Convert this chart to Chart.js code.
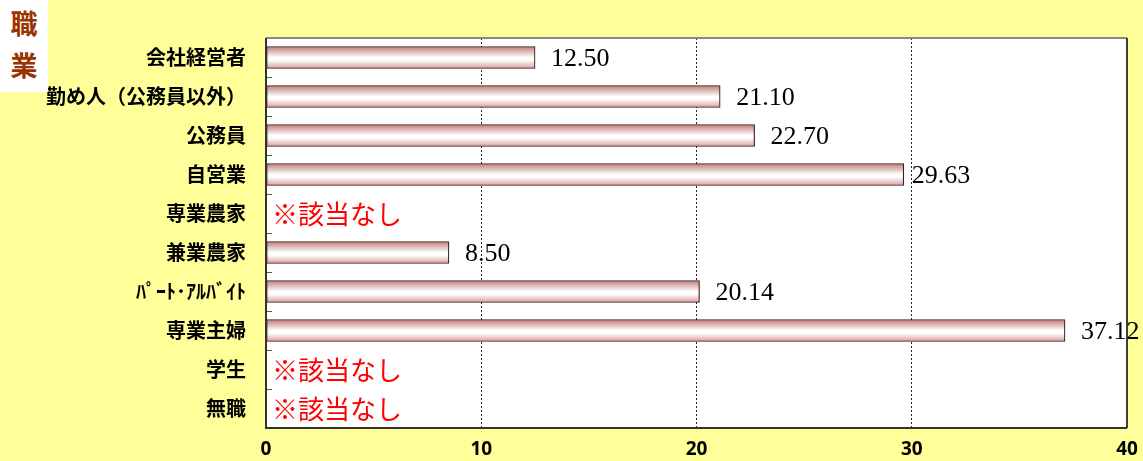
<!DOCTYPE html>
<html>
<head>
<meta charset="utf-8">
<script src="https://cdn.jsdelivr.net/npm/chart.js@4.4.1/dist/chart.umd.min.js"></script>
<style>
    html, body { margin: 0; padding: 0; background: #ffff99; }
    #wrap { position: relative; width: 1143px; height: 461px; }
    #title {
        position: absolute; left: 0; top: 0; width: 48px; height: 92px;
        background: #fff; color: #993300;
        font: bold 27px "Noto Sans CJK JP", sans-serif;
        line-height: 42px; text-align: center; padding-top: 2px; box-sizing: border-box;
    }
</style>
</head>
<body>
<div id="wrap">
    <canvas id="grafik" width="1143" height="461"></canvas>
    <div id="title">職<br>業</div>
</div>
<script>
const categories = ['会社経営者', '勤め人（公務員以外）', '公務員', '自営業', '専業農家', '兼業農家', 'ﾊﾟｰﾄ･ｱﾙﾊﾞｲﾄ', '専業主婦', '学生', '無職']
const values = [12.50, 21.10, 22.70, 29.63, null, 8.50, 20.14, 37.12, null, null]
const emptyNote = '※該当なし'
const xTicks = [0, 10, 20, 30, 40]

const BAR_H = 22

// vertical pink-white-pink gradient for each bar
function barFill(c) {
    const chart = c.chart
    if (!chart.chartArea || !chart.scales.y) return '#e8b8b8'
    const mid = chart.scales.y.getPixelForValue(c.dataIndex)
    const top = mid - BAR_H / 2
    const g = chart.ctx.createLinearGradient(0, top, 0, top + BAR_H)
    g.addColorStop(0, '#c27a7a')
    g.addColorStop(0.5, '#ffffff')
    g.addColorStop(0.62, '#ffffff')
    g.addColorStop(1, '#d99c9c')
    return g
}

const plotDeco = {
    id: 'plotDeco',
    beforeDraw(chart) {
        const { ctx, chartArea: a } = chart
        ctx.save()
        ctx.fillStyle = '#ffff99'
        ctx.fillRect(0, 0, chart.width, chart.height)
        ctx.fillStyle = '#ffffff'
        ctx.fillRect(a.left, a.top, a.right - a.left, a.bottom - a.top)
        ctx.restore()
    },
    afterDatasetsDraw(chart) {
        const { ctx, chartArea: a, scales } = chart
        const y = scales.y
        ctx.save()
        // tick marks inside plot between categories
        ctx.strokeStyle = '#555'
        ctx.lineWidth = 1
        for (let i = 1; i < categories.length; i++) {
            const yy = Math.round((y.getPixelForValue(i - 1) + y.getPixelForValue(i)) / 2) + 0.5
            ctx.beginPath()
            ctx.moveTo(a.left, yy)
            ctx.lineTo(a.left + 6, yy)
            ctx.stroke()
        }
        // borders
        ctx.strokeStyle = '#888'
        ctx.lineWidth = 2
        ctx.beginPath(); ctx.moveTo(a.left, a.top); ctx.lineTo(a.right, a.top); ctx.stroke()
        ctx.strokeStyle = '#000'
        ctx.lineWidth = 1.5
        ctx.beginPath(); ctx.moveTo(a.right, a.top); ctx.lineTo(a.right, a.bottom); ctx.stroke()
        ctx.strokeStyle = '#333'
        ctx.lineWidth = 2
        ctx.beginPath(); ctx.moveTo(a.left, a.top); ctx.lineTo(a.left, a.bottom); ctx.lineTo(a.right, a.bottom); ctx.stroke()

        // labels
        ctx.textBaseline = 'middle'
        ctx.textAlign = 'left'
        values.forEach((v, i) => {
            const yy = y.getPixelForValue(i)
            if (v === null) {
                ctx.fillStyle = '#ff0000'
                ctx.font = '26px "Noto Sans CJK JP", sans-serif'
                ctx.fillText(emptyNote, a.left + 6, yy + 1)
            } else {
                const el = chart.getDatasetMeta(0).data[i]
                ctx.fillStyle = '#000'
                ctx.font = '26px "Liberation Serif", serif'
                ctx.fillText(v.toFixed(2), el.x + (i === 3 ? 8 : 16), yy + 2)
            }
        })
        ctx.restore()
    }
}

new Chart(document.getElementById('grafik'), {
    type: 'bar',
    data: {
        labels: categories,
        datasets: [{
            data: values,
            backgroundColor: barFill,
            borderColor: '#3a2020',
            borderWidth: 1.2,
            borderSkipped: false,
            barThickness: BAR_H
        }]
    },
    plugins: [plotDeco],
    options: {
        indexAxis: 'y',
        responsive: false,
        animation: false,
        layout: { padding: { top: 38, right: 16, left: 0, bottom: 0 } },
        plugins: { legend: { display: false }, tooltip: { enabled: false } },
        scales: {
            x: {
                min: 0,
                max: 40,
                afterBuildTicks: s => { s.ticks = xTicks.map(v => ({ value: v })) },
                afterFit: s => { s.height = 33; s.paddingLeft = 0; s.paddingRight = 0 },
                border: { display: false, dash: [2, 2] },
                grid: {
                    color: c => (c.tick && (c.tick.value === 0 || c.tick.value === 40)) ? 'rgba(0,0,0,0)' : '#222',
                    lineWidth: 1,
                    drawTicks: false
                },
                ticks: {
                    color: '#000',
                    padding: 10,
                    font: { family: '"Noto Sans", sans-serif', size: 19, weight: 'bold' }
                }
            },
            y: {
                afterFit: s => { s.width = 266 },
                grid: { display: false },
                border: { display: false },
                ticks: {
                    color: '#000',
                    padding: 12,
                    font: { family: '"Noto Sans CJK JP", sans-serif', size: 20, weight: 'bold' }
                }
            }
        }
    }
})
</script>
</body>
</html>
